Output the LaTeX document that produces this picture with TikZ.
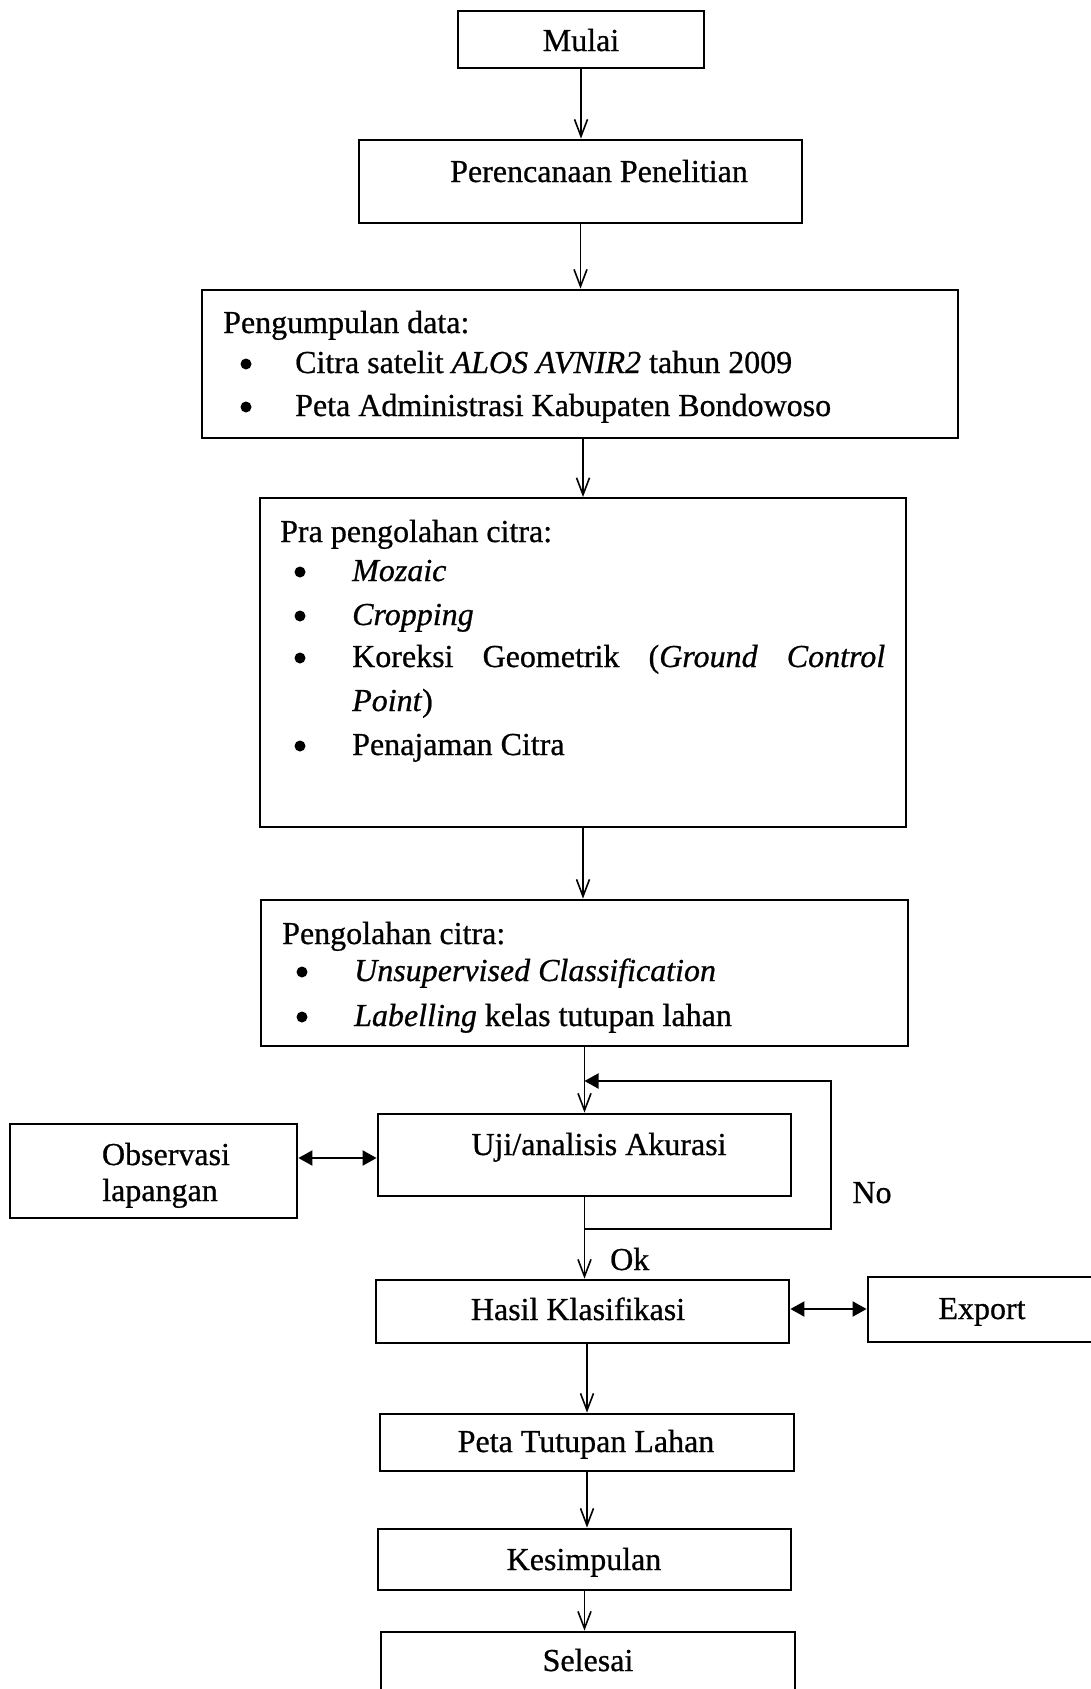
\documentclass[tikz,border=0pt]{standalone}
\usepackage{fontspec}
\setmainfont{Liberation Serif}[UprightFeatures={FakeBold=0.7},ItalicFeatures={FakeBold=0.7}]
\usetikzlibrary{arrows.meta}
\begin{document}
\begin{tikzpicture}[x=1pt,y=-1pt,
  box/.style={draw, line width=2.8pt, inner sep=0pt},
  txt/.style={inner sep=0pt, font=\fontsize{32pt}{40pt}\selectfont},
  bul/.style={circle, fill, inner sep=0pt, minimum size=11pt},
  arr/.style={line width=1.6pt, -{Straight Barb[length=17pt,width=13pt,line width=1.6pt]}},
  dbl/.style={line width=2pt, {Triangle[length=14pt,width=15pt]}-{Triangle[length=14pt,width=15pt]}},
  ln/.style={line width=2pt}]
\useasboundingbox (0,0) rectangle (1091,1689);
\fill[white] (0,0) rectangle (1091,1689);

% boxes
\node[box, minimum width=246pt, minimum height=57pt] (mulai) at (581,39.5) {};
\node[box, minimum width=443pt, minimum height=83pt] (peren) at (580.5,181.5) {};
\node[box, minimum width=756pt, minimum height=148pt] (kumpul) at (580,364) {};
\node[box, minimum width=646pt, minimum height=329pt] (pra) at (583,662.5) {};
\node[box, minimum width=647pt, minimum height=146pt] (olah) at (584.5,973) {};
\node[box, minimum width=413pt, minimum height=82pt] (uji) at (584.5,1155) {};
\node[box, minimum width=287pt, minimum height=94pt] (obs) at (153.5,1171) {};
\node[box, minimum width=413pt, minimum height=63pt] (hasil) at (582.5,1311.5) {};
\node[box, minimum width=232pt, minimum height=65pt] (exp) at (984,1309.5) {};
\node[box, minimum width=414pt, minimum height=57pt] (peta) at (587,1442.5) {};
\node[box, minimum width=413pt, minimum height=61pt] (kes) at (584.5,1559.5) {};
\node[box, minimum width=414pt, minimum height=76pt] (sel) at (588,1670) {};

% texts
\node[txt, anchor=base] (tmulai) at (581,51) {Mulai};
\node[txt, anchor=base] (tperen) at (599,182) {Perencanaan Penelitian};

\node[txt, anchor=base west] (k0) at (223,333) {Pengumpulan data:};
\node[bul] (k1b) at (246,364) {};
\node[txt, anchor=base west] (k1) at (295,373) {Citra satelit \textit{ALOS AVNIR2} tahun 2009};
\node[bul] (k2b) at (246,407) {};
\node[txt, anchor=base west] (k2) at (295,416) {Peta Administrasi Kabupaten Bondowoso};

\node[txt, anchor=base west] (p0) at (280,542) {Pra pengolahan citra:};
\node[bul] (p1b) at (300,572) {};
\node[txt, anchor=base west] (p1) at (352,581) {\textit{Mozaic}};
\node[bul] (p2b) at (300,616) {};
\node[txt, anchor=base west] (p2) at (352,625) {\textit{Cropping}};
\node[bul] (p3b) at (300,658) {};
\node[txt, anchor=base west] (p3) at (352,667) {\makebox[533pt][l]{Koreksi\hfill Geometrik\hfill (\textit{Ground}\hfill \textit{Control}}};
\node[txt, anchor=base west] (p4) at (352,711) {\textit{Point})};
\node[bul] (p5b) at (300,746) {};
\node[txt, anchor=base west] (p5) at (352,755) {Penajaman Citra};

\node[txt, anchor=base west] (o0) at (282,944) {Pengolahan citra:};
\node[bul] (o1b) at (302,972) {};
\node[txt, anchor=base west] (o1) at (354,981) {\textit{Unsupervised Classification}};
\node[bul] (o2b) at (302,1017) {};
\node[txt, anchor=base west] (o2) at (354,1026) {\textit{Labelling} kelas tutupan lahan};

\node[txt, anchor=base] (tuji) at (599,1155) {Uji/analisis Akurasi};
\node[txt, anchor=base] (tobs1) at (166,1165) {Observasi};
\node[txt, anchor=base] (tobs2) at (160,1201) {lapangan};
\node[txt, anchor=base] (thasil) at (578,1320) {Hasil Klasifikasi};
\node[txt, anchor=base] (texp) at (982,1319) {Export};
\node[txt, anchor=base] (tpeta) at (586,1452) {Peta Tutupan Lahan};
\node[txt, anchor=base] (tkes) at (584,1570) {Kesimpulan};
\node[txt, anchor=base] (tsel) at (588,1671) {Selesai};
\node[txt, anchor=base] (tno) at (872,1203) {No};
\node[txt, anchor=base west] (tok) at (610,1270) {Ok};

% connectors
\draw[arr] (mulai.south) -- (mulai.south |- peren.north);
\draw[arr] (peren.south) -- (peren.south |- kumpul.north);
\draw[arr] (583,438) -- (583,497);
\draw[arr] (pra.south) -- (pra.south |- olah.north);
\draw[arr] (olah.south) -- (olah.south |- uji.north);
\coordinate (c1) at (584.5,1229);
\coordinate (c2) at (831,1229);
\coordinate (c3) at (831,1081);
\coordinate (c4) at (584.5,1081);
\draw[ln, -{Triangle[length=14pt,width=15pt]}] (c1) -- (c2) -- (c3) -- (c4);
\draw[arr] (uji.south) -- (uji.south |- hasil.north);
\draw[dbl] (obs.east |- 0,1158) -- (uji.west |- 0,1158);
\draw[dbl] (hasil.east |- 0,1309) -- (exp.west |- 0,1309);
\draw[arr] (peta.north |- hasil.south) -- (peta.north);
\draw[arr] (peta.south) -- (peta.south |- kes.north);
\draw[arr] (kes.south) -- (kes.south |- sel.north);
\end{tikzpicture}
\end{document}
